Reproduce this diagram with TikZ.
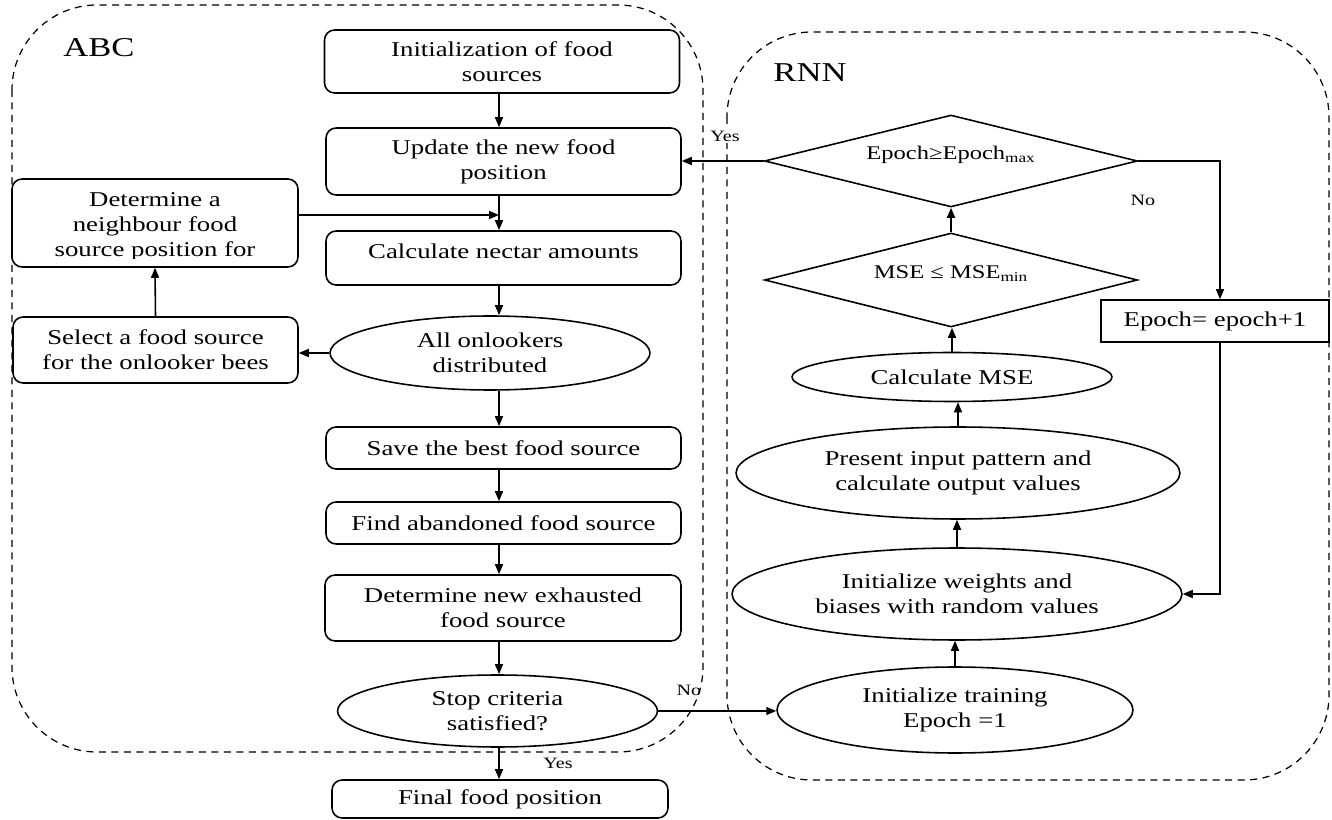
\documentclass[tikz,border=0pt]{standalone}
\usepackage{fontspec}
\setmainfont{Liberation Serif}[FakeStretch=1.27]
\usetikzlibrary{shapes.geometric,arrows.meta,calc}

\begin{document}
\begin{tikzpicture}[x=0.02cm,y=-0.02cm,
	box/.style={draw,line width=0.9pt,rounded corners=2mm,align=center,inner sep=0pt,font=\fontsize{12}{14.2}\selectfont},
	oval/.style={draw,ellipse,line width=0.9pt,align=center,inner sep=0pt,font=\fontsize{12}{14.2}\selectfont},
	dia/.style={draw,diamond,aspect=4.05,line width=0.9pt,inner sep=0pt,text height=2.6mm,text depth=3.2mm,font=\fontsize{11}{13}\selectfont},
	arr/.style={line width=0.9pt,-{Triangle[length=2mm,width=1.6mm]}},
	region/.style={draw,line width=0.7pt,dash pattern=on 1.4mm off 1.1mm,rounded corners=1.7cm},
	tag/.style={font=\fontsize{9}{11}\selectfont,inner sep=1pt},
	title/.style={font=\fontsize{15.5}{18}\selectfont}]
		\useasboundingbox (0,0) rectangle (1332,820);
		
		%dashed regions
		\draw[region] (12,5) rectangle (703,752);
		\draw[region] (727,32) rectangle (1329,780);
		\node[title] (abc) at (99,48) {ABC};
		\node[title] (rnn) at (810,73) {RNN};
		
		%ABC column
		\node[box,minimum width=7.1cm,minimum height=1.26cm] (init) at (502,61.5) {Initialization of food\\sources};
		\node[box,minimum width=7.1cm,minimum height=1.34cm] (update) at (503.5,161.5) {Update the new food\\position};
		\node[box,minimum width=7.1cm,minimum height=1.08cm,text height=2.9mm,text depth=2.5mm] (nectar) at (503.5,258) {Calculate nectar amounts};
		\node[oval,minimum width=6.4cm,minimum height=1.48cm] (onlook) at (490,353) {All onlookers\\distributed};
		\node[box,minimum width=7.1cm,minimum height=0.84cm] (save) at (503.5,448) {Save the best food source};
		\node[box,minimum width=7.1cm,minimum height=0.84cm] (abandon) at (503.5,523) {Find abandoned food source};
		\node[box,minimum width=7.12cm,minimum height=1.32cm] (exhaust) at (503,608) {Determine new exhausted\\food source};
		\node[oval,minimum width=6.4cm,minimum height=1.44cm] (stop) at (497.5,711) {Stop criteria\\satisfied?};
		\node[box,minimum width=6.72cm,minimum height=0.76cm] (final) at (500,799) {Final food position};
		
		%onlooker loop
		\node[box,minimum width=5.72cm,minimum height=1.76cm] (neigh) at (155,223) {};
		\begin{scope}
			\clip (neigh.north west) rectangle ($(neigh.south east)+(0,-9)$);
			\node[align=center,font=\fontsize{12}{14.2}\selectfont] (neightxt) at (155,227) {Determine a\\neighbour food\\source position for};
		\end{scope}
		\node[box,minimum width=5.7cm,minimum height=1.32cm] (select) at (155.5,350) {Select a food source\\for the onlooker bees};
		
		%RNN column
		\node[dia,minimum width=7.46cm,minimum height=1.84cm] (epmax) at (951,161) {Epoch≥Epoch\textsubscript{max}};
		\node[dia,minimum width=7.46cm,minimum height=1.88cm] (msemin) at (951,280) {MSE ≤ MSE\textsubscript{min}};
		\node[oval,minimum width=6.4cm,minimum height=0.98cm] (calcmse) at (952,377) {Calculate MSE};
		\node[oval,minimum width=8.88cm,minimum height=1.84cm] (present) at (958,473) {Present input pattern and\\calculate output values};
		\node[oval,minimum width=9cm,minimum height=1.84cm] (initw) at (957,594) {Initialize weights and\\biases with random values};
		\node[oval,minimum width=7.12cm,minimum height=1.72cm] (inittr) at (955,710) {Initialize training\\Epoch =1};
		\node[box,rounded corners=0pt,minimum width=4.56cm,minimum height=0.84cm] (epoch) at (1215,321) {Epoch= epoch+1};
		
		%ABC arrows
		\coordinate (col) at (499,0);
		\draw[arr] (init.south -| col) -- (update.north -| col);
		\draw[arr] (update.south -| col) -- (nectar.north -| col);
		\coordinate (nj) at ($(neigh.east)+(0,-8)$);
		\draw[arr] (nj) -- (nj -| col);
		\draw[arr] (nectar.south -| col) -- (onlook.north -| col);
		\draw[arr] (onlook.west) -- (onlook.west -| select.east);
		\draw[arr] (select.north) -- (neigh.south);
		\draw[arr] (onlook.south -| col) -- (save.north -| col);
		\draw[arr] (save.south -| col) -- (abandon.north -| col);
		\draw[arr] (abandon.south -| col) -- (exhaust.north -| col);
		\draw[arr] (exhaust.south -| col) -- (stop.north -| col);
		\draw[arr] (stop.south -| col) -- (final.north -| col);
		\draw[arr] (stop.east) -- (stop.east -| inittr.west);
		
		%RNN arrows
		\draw[arr] (inittr.north) -- (inittr.north |- initw.south);
		\draw[arr] (initw.north) -- (initw.north |- present.south);
		\draw[arr] (present.north) -- (present.north |- calcmse.south);
		\draw[arr] (calcmse.north) -- (calcmse.north |- msemin.south);
		\draw[arr] (msemin.north) -- (epmax.south);
		\draw[arr] (epmax.west) -- (epmax.west -| update.east);
		\coordinate (rx) at (1220,0);
		\draw[arr] (epmax.east) -| (epoch.north -| rx);
		\draw[arr] (epoch.south -| rx) |- (initw.east);
		
		%labels
		\node[tag,fill=white] (yes1) at (725,136) {Yes};
		\node[tag] (no1) at (1143,200) {No};
		\node[tag] (no2) at (689,690) {No};
		\node[tag,fill=white] (yes2) at (558,763) {Yes};
\end{tikzpicture}
\end{document}
